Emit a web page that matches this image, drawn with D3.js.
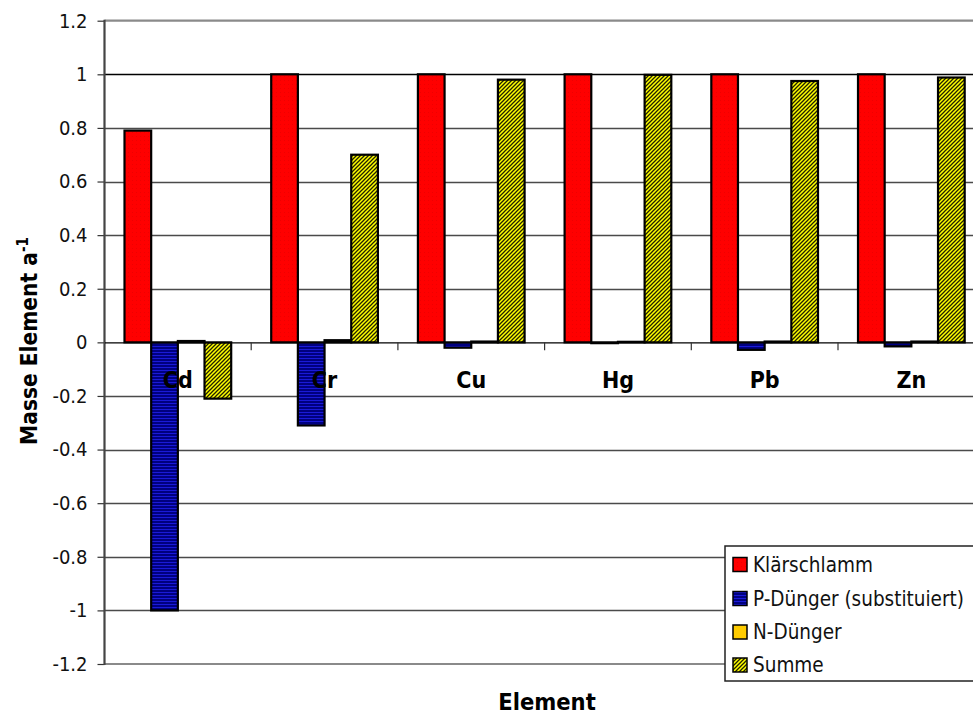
<!DOCTYPE html>
<html>
<head>
<meta charset="utf-8">
<script src="https://cdn.jsdelivr.net/npm/d3@7"></script>
<style>
  html, body { margin: 0; padding: 0; background: #fff; }
  svg { display: block; font-family: "DejaVu Sans Condensed", "DejaVu Sans", sans-serif; font-stretch: condensed; }
</style>
</head>
<body>
<svg id="chart" width="973" height="715"></svg>
<script>
// Elements and series
const elements = ["Cd", "Cr", "Cu", "Hg", "Pb", "Zn"];
const seriesNames = ["Klärschlamm", "P-Dünger (substituiert)", "N-Dünger", "Summe"];
const klaerschlamm = [0.79, 1.0, 1.0, 1.0, 1.0, 1.0];
const pDuenger = [-1.0, -0.31, -0.02, -0.003, -0.028, -0.015];
const nDuenger = [0.005, 0.008, 0.003, 0.002, 0.003, 0.003];
const summe = [-0.21, 0.70, 0.98, 0.998, 0.975, 0.988];
const yTicks = [-1.2, -1, -0.8, -0.6, -0.4, -0.2, 0, 0.2, 0.4, 0.6, 0.8, 1, 1.2];
const yTickLabels = ["-1.2", "-1", "-0.8", "-0.6", "-0.4", "-0.2", "0", "0.2", "0.4", "0.6", "0.8", "1", "1.2"];

const seriesValues = [klaerschlamm, pDuenger, nDuenger, summe];

const svg = d3.select("#chart");
const defs = svg.append("defs");

// Fill patterns
const pRed = defs.append("pattern").attr("id", "patRed").attr("patternUnits", "userSpaceOnUse")
  .attr("width", 4).attr("height", 4);
pRed.append("rect").attr("width", 4).attr("height", 4).attr("fill", "#ff0000");
pRed.append("rect").attr("x", 0).attr("y", 0).attr("width", 1).attr("height", 1).attr("fill", "#ee0000");

const pBlue = defs.append("pattern").attr("id", "patBlue").attr("patternUnits", "userSpaceOnUse")
  .attr("width", 4).attr("height", 3);
pBlue.append("rect").attr("width", 4).attr("height", 3).attr("fill", "#000080");
pBlue.append("rect").attr("y", 1).attr("width", 4).attr("height", 1).attr("fill", "#1a1ad8");

const pHatch = defs.append("pattern").attr("id", "patHatch").attr("patternUnits", "userSpaceOnUse")
  .attr("width", 4).attr("height", 4);
pHatch.append("rect").attr("width", 4).attr("height", 4).attr("fill", "#ffff00");
pHatch.append("path").attr("d", "M-1,1 L1,-1 M0,4 L4,0 M3,5 L5,3")
  .attr("stroke", "#222200").attr("stroke-width", 1.3);

const fills = ["url(#patRed)", "url(#patBlue)", "#ffcc00", "url(#patHatch)"];

// Scales
const plotLeft = 104.5, plotRight = 984.7, plotTop = 20.7, plotBottom = 664;
const x0 = d3.scaleBand().domain(elements).range([plotLeft, plotRight]).paddingInner(0).paddingOuter(0);
const x1 = d3.scaleBand().domain(seriesNames).range([0, x0.bandwidth()]).paddingInner(0).paddingOuter(0.75);
const y = d3.scaleLinear().domain([-1.2, 1.2]).range([plotBottom, plotTop]);

// Grid lines
const grid = svg.append("g");
grid.selectAll("line").data(yTicks.filter(t => t !== 0 && Math.abs(t) !== 1.2)).join("line")
  .attr("x1", plotLeft).attr("x2", plotRight)
  .attr("y1", d => Math.round(y(d)) + 0.5).attr("y2", d => Math.round(y(d)) + 0.5)
  .attr("stroke", d => d === 1 ? "#000" : "#4a4a4a").attr("stroke-width", 1.3);
// Plot area border (top/bottom)
[1.2, -1.2].forEach(t => {
  grid.append("line").attr("x1", plotLeft).attr("x2", plotRight)
    .attr("y1", y(t)).attr("y2", y(t)).attr("stroke", "#8a8a8a").attr("stroke-width", 2.2);
});

// Y axis
const yAxis = d3.axisLeft(y).tickValues(yTicks).tickSize(7).tickPadding(10)
  .tickFormat((d, i) => yTickLabels[i]);
const gy = svg.append("g").attr("transform", `translate(${plotLeft},0)`).call(yAxis);
gy.select(".domain").remove();
gy.selectAll(".tick line").attr("stroke", "#333").attr("stroke-width", 1.2);
gy.selectAll(".tick text").attr("font-size", 20).attr("fill", "#111")
  .attr("font-family", "'DejaVu Sans Condensed', 'DejaVu Sans', sans-serif");
svg.append("line").attr("x1", plotLeft).attr("x2", plotLeft).attr("y1", plotTop - 1).attr("y2", plotBottom + 1)
  .attr("stroke", "#444").attr("stroke-width", 2.2);

// Bars
const barsG = svg.append("g");
seriesNames.forEach((name, si) => {
  barsG.append("g").selectAll("rect").data(seriesValues[si]).join("rect")
    .attr("x", (d, i) => x0(elements[i]) + x1(name))
    .attr("width", x1.bandwidth())
    .attr("y", d => y(Math.max(0, d)))
    .attr("height", d => Math.max(0.5, Math.abs(y(d) - y(0))))
    .attr("fill", fills[si])
    .attr("stroke", "#000").attr("stroke-width", 2.2);
});

// Category axis at zero
const xAxis = d3.axisBottom(x0).tickSize(0).tickFormat("");
const gx = svg.append("g").attr("transform", `translate(0,${y(0)})`).call(xAxis);
gx.select(".domain").attr("stroke", "#000").attr("stroke-width", 1.3);
// tick marks between categories
svg.append("g").selectAll("line").data(elements.slice(1)).join("line")
  .attr("x1", d => x0(d)).attr("x2", d => x0(d))
  .attr("y1", y(0)).attr("y2", y(0) + 8)
  .attr("stroke", "#333").attr("stroke-width", 1.2);

// Category labels
svg.append("g").selectAll("text").data(elements).join("text")
  .attr("x", d => x0(d) + x0.bandwidth() / 2)
  .attr("y", 388)
  .attr("text-anchor", "middle")
  .attr("font-size", 23).attr("font-weight", "bold").attr("fill", "#000")
  .text(d => d);

// Axis titles
svg.append("text").attr("x", 547).attr("y", 710).attr("text-anchor", "middle")
  .attr("font-size", 23.5).attr("font-weight", "bold").attr("fill", "#000").text("Element");

const yt = svg.append("text").attr("transform", "translate(37,341) rotate(-90)")
  .attr("text-anchor", "middle").attr("font-size", 22.5).attr("font-weight", "bold").attr("fill", "#000");
yt.append("tspan").text("Masse Element a");
yt.append("tspan").attr("dy", -9).attr("font-size", 15).text("-1");

// Legend
const lg = svg.append("g").attr("transform", "translate(725,546)");
lg.append("rect").attr("width", 270).attr("height", 135).attr("fill", "#fff")
  .attr("stroke", "#222").attr("stroke-width", 1.5);
const rowY = [18.5, 52.5, 86, 119];
seriesNames.forEach((name, i) => {
  lg.append("rect").attr("x", 8).attr("y", rowY[i] - 7).attr("width", 14).attr("height", 14)
    .attr("fill", fills[i]).attr("stroke", "#000").attr("stroke-width", 1.5);
  lg.append("text").attr("x", 28).attr("y", rowY[i] + 7).attr("font-size", 20.5).attr("fill", "#111").text(name);
});
</script>
</body>
</html>
